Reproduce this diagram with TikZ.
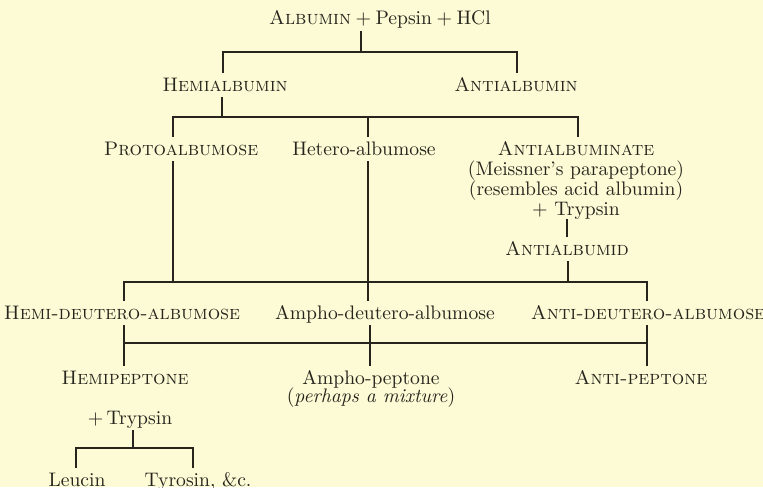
\documentclass[tikz,border=0pt]{standalone}
\usepackage{tikz}
\usetikzlibrary{positioning}
\definecolor{paper}{RGB}{252,251,213}
\definecolor{ink}{RGB}{38,36,28}

\begin{document}
\begin{tikzpicture}[x=.5pt,y=-.5pt,font=\fontsize{9.8}{10}\selectfont,
    every node/.style={text=ink},
    lbl/.style={inner sep=2pt,text height=7pt,text depth=1pt,anchor=base},
    blk/.style={inner sep=2pt,align=center,anchor=north},
    link/.style={draw=ink,line width=.65pt}]
  \fill[paper] (0,0) rectangle (763,487);
  \useasboundingbox (0,0) rectangle (763,487);
  % substances
  \node[lbl] (top) at (380,25) {\textsc{Albumin}${}+{}$Pepsin${}+{}$HCl};
  \node[lbl] (hemi) at (225,91) {\textsc{Hemialbumin}};
  \node[lbl] (anti) at (516,91) {\textsc{Antialbumin}};
  \node[lbl] (proto) at (181,155) {\textsc{Protoalbumose}};
  \node[lbl] (hetero) at (364,155) {Hetero-albumose};
  \node[blk] (antiate) at (576,137) {\textsc{Antialbuminate}\\(Meissner's parapeptone)\\(resembles acid albumin)\\$+$ Trypsin};
  \node[lbl] (antid) at (567,255) {\textsc{Antialbumid}};
  \node[lbl] (hdeut) at (122,319) {\textsc{Hemi-deutero-albumose}};
  \node[lbl] (adeut) at (385,319) {Ampho-deutero-albumose};
  \node[lbl] (antideut) at (648,319) {\textsc{Anti-deutero-albumose}};
  \node[lbl] (hpep) at (125,384) {\textsc{Hemipeptone}};
  \node[blk] (apep) at (371,366) {Ampho-peptone\\[-1pt](\textit{perhaps a mixture})};
  \node[lbl] (antipep) at (641,384) {\textsc{Anti-peptone}};
  \node[lbl] (tryp) at (130,424) {$+$\,Trypsin};
  \node[lbl] (leu) at (77,486) {Leucin};
  \node[lbl] (tyr) at (198,486) {Tyrosin, \&c.};
  % first split
  \coordinate (j1) at (361,52);
  \coordinate (j1l) at (223,52);
  \coordinate (j1r) at (517,52);
  \draw[link] (top.south -| j1) -- (j1);
  \draw[link] (hemi.north -| j1l) -- (j1l) -- (j1r) -- (anti.north -| j1r);
  % albumoses
  \coordinate (j2) at (222,117);
  \coordinate (j2a) at (173,117);
  \coordinate (j2b) at (368,117);
  \coordinate (j2c) at (578,117);
  \draw[link] (hemi.south -| j2) -- (j2);
  \draw[link] (proto.north -| j2a) -- (j2a) -- (j2c) -- (antiate.north -| j2c);
  \draw[link] (j2b) -- (hetero.north -| j2b);
  \draw[link] ([yshift=2.5pt]antiate.south -| antid) -- (antid.north);
  % deutero-albumoses
  \coordinate (j3a) at (173,282);
  \coordinate (j3b) at (368,282);
  \coordinate (j3c) at (568,282);
  \coordinate (j3d) at (124,282);
  \coordinate (j3e) at (647,282);
  \draw[link] (proto.south -| j3a) -- (j3a);
  \draw[link] (hetero.south -| j3b) -- (j3b);
  \draw[link] (antid.south -| j3c) -- (j3c);
  \draw[link] (hdeut.north -| j3d) -- (j3d) -- (j3e) -- (antideut.north -| j3e);
  \draw[link] (j3b) -- (adeut.north -| j3b);
  % peptones
  \coordinate (j4a) at (124,343);
  \coordinate (j4b) at (370,343);
  \coordinate (j4c) at (647,343);
  \draw[link] (j4a) -- (j4c);
  \draw[link] (hdeut.south -| j4a) -- (hpep.north -| j4a);
  \draw[link] (adeut.south -| j4b) -- (apep.north -| j4b);
  \draw[link] (antideut.south -| j4c) -- (antipep.north -| j4c);
  % trypsin on hemipeptone
  \coordinate (j5) at (133,448);
  \coordinate (j5a) at (76,448);
  \coordinate (j5b) at (193,448);
  \draw[link] (tryp.south -| j5) -- (j5);
  \draw[link] (leu.north -| j5a) -- (j5a) -- (j5b) -- (tyr.north -| j5b);
\end{tikzpicture}
\end{document}
